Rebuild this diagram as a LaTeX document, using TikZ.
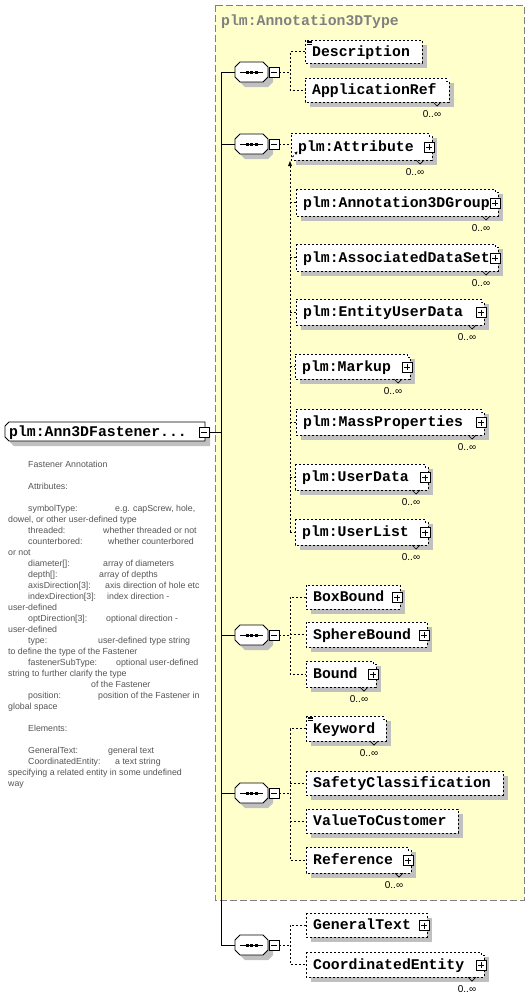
\documentclass[tikz,border=0pt]{standalone}
\usepackage{fontspec}
\setmainfont{Liberation Sans}
\newfontfamily\elfont{Liberation Mono}
\usetikzlibrary{calc,arrows.meta}
\definecolor{yel}{HTML}{FFFFCC}
\definecolor{shd}{HTML}{C0C0C0}
\definecolor{ttl}{HTML}{808080}
\definecolor{ann}{HTML}{555555}
\tikzset{
  dsh/.style={draw=black, line width=0.8pt, dash pattern=on 2pt off 2pt},
  solidl/.style={draw=black, line width=0.9pt},
  thinl/.style={draw=black, line width=0.7pt},
  eltxt/.style={font=\elfont\bfseries\fontsize{14.8}{16}\selectfont, inner sep=0pt, anchor=base west},
  mult/.style={font=\fontsize{10}{11}\selectfont, inner sep=0pt},
  anno/.style={font=\fontsize{8.8}{10}\selectfont, text=ann, inner sep=0pt, anchor=base west},
  elbox/.style={fill=white, inner sep=0pt, outer sep=0pt, anchor=north west},
  pmbox/.style={draw=black, fill=white, line width=0.8pt, minimum size=10pt, inner sep=0pt, outer sep=0pt},
  hid/.style={inner sep=0pt, outer sep=0pt},
}
\newcommand\plusbox[3]{%
  \node[pmbox] (#1) at ({#2},{#3}) {};
  \draw[thinl] ($(#1.center)+(-3,0)$) -- ++(6,0);
  \draw[thinl] ($(#1.center)+(0,-3)$) -- ++(0,6);
}
\newcommand\minusbox[3]{%
  \node[pmbox] (#1) at ({#2},{#3}) {};
  \draw[thinl] ($(#1.center)+(-3,0)$) -- ++(6,0);
}
\newcommand\docicon[2]{%
  \foreach \k in {0.8,2.4,4}{\draw[line width=0.6pt] ({#1+1.5},{#2+\k}) -- ({#1+6.5},{#2+\k});}
}
\newcommand\elem[9]{%
  \fill[shd] ({#2+5},{#3+5}) rectangle ({#4+5},{#5+5});
  \node[elbox, minimum width=#4-#2, minimum height=#5-#3] (#1) at (#2,#3) {};
  \ifnum#7=1
    \draw[dsh] (#1.north west) -- ($(#1.north east)+(-3,0)$) -- ++(0,3) -- ++(3,0) -- (#1.south east) -- (#1.south west) -- cycle;
    \draw[thinl] ($(#1.south east)+(-16,0)$) -- ++(4,4) -- ++(4,-4);
    \node[mult] (#1-occ) at ($(#1.south east)+(-17,12)$) {0..∞};
  \else
    \draw[dsh] (#1.north west) rectangle (#1.south east);
  \fi
  \node[eltxt] (#1-txt) at ($(#1.west)+(7,4.5)$) {#6};
  \ifnum#8=1 \plusbox{#1-pl}{#4-3}{(#3+#5)/2+0.5}\fi
  \ifnum#9=1 \docicon{#2}{#3}\fi
}
\newcommand\seqbox[2]{%
  \begin{scope}[shift={(5,5)}]
    \fill[shd] (240,{#2-10}) -- (263,{#2-10}) -- (268,{#2-5}) -- (268,{#2+5}) -- (263,{#2+10}) -- (240,{#2+10}) -- (235,{#2+5}) -- (235,{#2-5}) -- cycle;
  \end{scope}
  \path[fill=white, draw=black, line width=0.8pt] (240,{#2-10}) -- (263,{#2-10}) -- (268,{#2-5}) -- (268,{#2+5}) -- (263,{#2+10}) -- (240,{#2+10}) -- (235,{#2+5}) -- (235,{#2-5}) -- cycle;
  \node[hid, minimum width=33, minimum height=20] (#1) at (251.5,#2) {};
  \draw[thinl] (240,#2) -- (263,#2);
  \foreach \dx in {247,251.5,256}{\fill ({\dx-1.5},{#2-1.5}) rectangle ({\dx+1.5},{#2+1.5});}
  \minusbox{#1-m}{274}{#2}
}
\begin{document}
\begin{tikzpicture}[x=1pt,y=-1pt]
\useasboundingbox (0,0) rectangle (530,999);
\fill[white] (0,0) rectangle (530,999);
% yellow complex type region
\fill[yel] (215,5) rectangle (524,900);
\draw[ttl, line width=1pt, dash pattern=on 7pt off 3pt] (215,5) rectangle (524,900);
\node[eltxt, text=ttl] (title) at (221,25.5) {plm:Annotation3DType};

% trunk
\coordinate (trunkT) at (221,72);
\coordinate (trunkB) at (221,945);
\coordinate (bx) at (290,0);
\draw[solidl] (trunkT) -- (trunkB);

% main element
\begin{scope}[shift={(5,5)}]
  \fill[shd] (9,422) -- (205,422) -- (205,441) -- (9,441) -- (5,437) -- (5,426) -- cycle;
\end{scope}
\path[fill=white, draw=black, line width=0.8pt] (9,422) -- (205,422) -- (205,441) -- (9,441) -- (5,437) -- (5,426) -- cycle;
\node[hid, minimum width=200, minimum height=19, anchor=north west] (main) at (5,422) {};
\node[eltxt] (main-txt) at (9,436) {plm:Ann3DFastener...};
\minusbox{main-m}{204}{432}
\draw[solidl] (main-m.east) -- (main-m.east -| trunkT);

% annotation
\foreach \yy/\xx/\t [count=\i] in {
  464/28/{Fastener Annotation},
  486/28/{Attributes:},
  508/28/{symbolType:},
  508/115/{e.g. capScrew, hole,},
  519/8/{dowel, or other user-defined type},
  530/28/{threaded:},
  530/103/{whether threaded or not},
  541/28/{counterbored:},
  541/108/{whether counterbored},
  552/8/{or not},
  563/28/{diameter[]:},
  563/103/{array of diameters},
  574/28/{depth[]:},
  574/99/{array of depths},
  585/28/{axisDirection[3]:},
  585/105/{axis direction of hole etc},
  596/28/{indexDirection[3]:},
  596/107/{index direction -},
  607/8/{user-defined},
  618/28/{optDirection[3]:},
  618/106/{optional direction -},
  629/8/{user-defined},
  640/28/{type:},
  640/98/{user-defined type string},
  651/8/{to define the type of the Fastener},
  662/28/{fastenerSubType:},
  662/116/{optional user-defined},
  673/8/{string to further clarify the type},
  684/91/{of the Fastener},
  695/28/{position:},
  695/98/{position of the Fastener in},
  706/8/{global space},
  728/28/{Elements:},
  750/28/{GeneralText:},
  750/108/{general text},
  761/28/{CoordinatedEntity:},
  761/115/{a text string},
  772/8/{specifying a related entity in some undefined},
  783/8/{way}}
  {\node[anno] (an\i) at (\xx,\yy+3.5) {\t};}

% sequences
\seqbox{seq1}{72}
\seqbox{seq2}{144}
\seqbox{seq3}{635}
\seqbox{seq4}{793}
\seqbox{seq5}{945}
\foreach \s in {seq1,seq2,seq3,seq4,seq5}{\draw[solidl] (\s.west -| trunkT) -- (\s.west);}

% elements
\elem{desc}{305}{40}{422}{63}{Description}{0}{0}{1}
\elem{apref}{305}{78}{449}{102}{ApplicationRef}{1}{0}{0}
\elem{attr}{291}{133}{432}{160}{plm:Attribute}{1}{1}{0}
\elem{grp}{296}{189}{498}{216}{plm:Annotation3DGroup}{1}{1}{0}
\elem{ads}{296}{244}{498}{271}{plm:AssociatedDataSet}{1}{1}{0}
\elem{eud}{296}{299}{484}{325}{plm:EntityUserData}{1}{1}{0}
\elem{mku}{295}{354}{410}{379}{plm:Markup}{1}{1}{0}
\elem{mass}{296}{409}{484}{435}{plm:MassProperties}{1}{1}{0}
\elem{udata}{295}{464}{428}{490}{plm:UserData}{1}{1}{0}
\elem{ulist}{295}{519}{428}{545}{plm:UserList}{1}{1}{0}
\elem{bbox}{306}{585}{400}{609}{BoxBound}{0}{1}{0}
\elem{sbound}{306}{622}{427}{647}{SphereBound}{0}{1}{0}
\elem{bound}{306}{661}{376}{687}{Bound}{1}{1}{0}
\elem{kw}{306}{716}{386}{741}{Keyword}{1}{0}{1}
\elem{safety}{306}{771}{503}{795}{SafetyClassification}{0}{0}{0}
\elem{vtc}{306}{809}{458}{833}{ValueToCustomer}{0}{0}{0}
\elem{ref}{306}{847}{411}{873}{Reference}{1}{1}{0}
\elem{gt}{306}{913}{427}{937}{GeneralText}{0}{1}{0}
\elem{ce}{306}{952}{484}{977}{CoordinatedEntity}{1}{1}{0}

% sequence 1 connectors
\draw[dsh] (seq1-m.east) -- (seq1-m.east -| bx);
\draw[dsh] (desc.west) -- (desc.west -| bx) -- (apref.west -| bx) -- (apref.west);
% sequence 2 connectors
\draw[dsh] (seq2-m.east) -- (seq2-m.east -| attr.west);
\draw[dsh] (ulist.west -| bx) -- ($(bx |- attr.south)+(0,6)$);
\fill ($(bx |- attr.south)+(0,1)$) -- ++(-2,5) -- ++(4,0) -- cycle;
\draw[dsh, -{Stealth[length=3pt,width=3pt]}] ($(attr.south west)+(1.5,-3)$) -- ++(5,-5.5);
\foreach \n in {grp,ads,eud,mku,mass,udata,ulist}{\draw[dsh] (\n.west -| bx) -- (\n.west);}
% sequence 3 connectors
\draw[dsh] (seq3-m.east) -- (seq3-m.east -| bx);
\draw[dsh] (bbox.west) -- (bbox.west -| bx) -- (bound.west -| bx) -- (bound.west);
\draw[dsh] (sbound.west -| bx) -- (sbound.west);
% sequence 4 connectors
\draw[dsh] (seq4-m.east) -- (seq4-m.east -| bx);
\draw[dsh] (kw.west) -- (kw.west -| bx) -- (ref.west -| bx) -- (ref.west);
\draw[dsh] (safety.west -| bx) -- (safety.west);
\draw[dsh] (vtc.west -| bx) -- (vtc.west);
% sequence 5 connectors
\draw[dsh] (seq5-m.east) -- (seq5-m.east -| bx);
\draw[dsh] (gt.west) -- (gt.west -| bx) -- (ce.west -| bx) -- (ce.west);
\end{tikzpicture}
\end{document}
